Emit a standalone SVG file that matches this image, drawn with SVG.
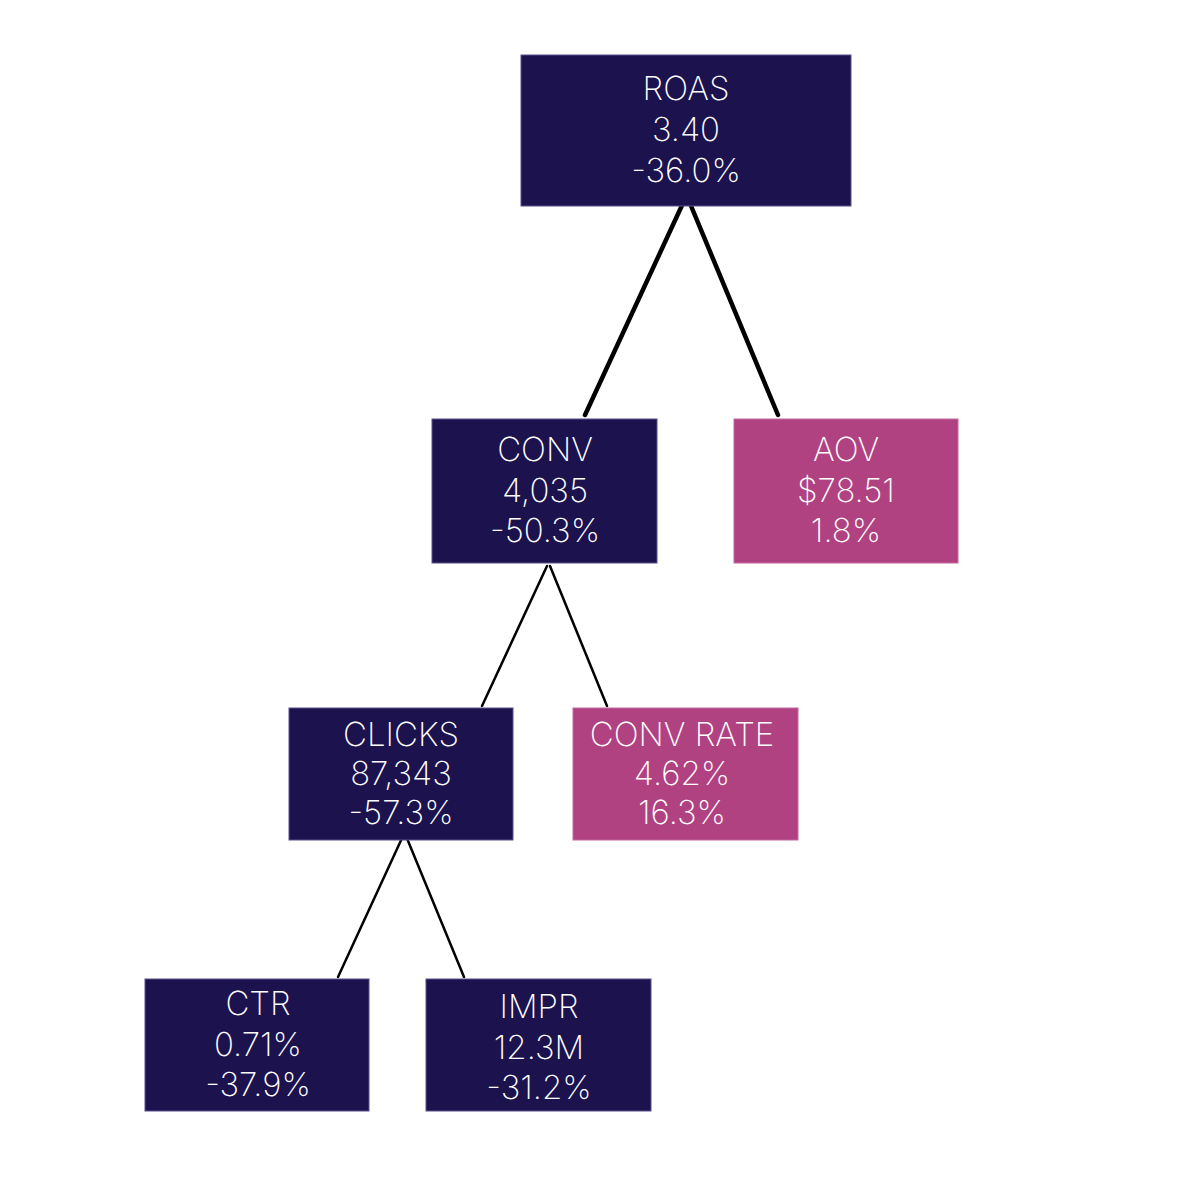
<svg xmlns="http://www.w3.org/2000/svg" width="1200" height="1200" viewBox="0 0 1200 1200">
<style>
.box{stroke:#5a5190;stroke-width:1}
.navy{fill:#1b124e}
.pink{fill:#b04282;stroke:#c668a0}
.t{fill:#ffffff;font-family:Inter,"Noto Sans",sans-serif;font-weight:250;font-size:33px;text-anchor:middle}
.c1{stroke:#000;stroke-width:4.5;stroke-linecap:round;fill:none}
.c2{stroke:#000;stroke-width:2.5;stroke-linecap:round;fill:none}
</style>
<rect width="1200" height="1200" fill="#ffffff"/>
<g id="connectors">
<line class="c1" x1="684" y1="201" x2="585" y2="415"/>
<line class="c1" x1="689" y1="201" x2="778" y2="415"/>
<line class="c2" x1="547" y1="566" x2="482" y2="706"/>
<line class="c2" x1="550" y1="566" x2="607" y2="706"/>
<line class="c2" x1="403" y1="836" x2="338" y2="977"/>
<line class="c2" x1="406" y1="836" x2="464" y2="977"/>
</g>
<g id="roas">
<rect class="box navy" x="521" y="55" width="330" height="151"/>
<text class="t" x="686" y="100">ROAS</text>
<text class="t" x="686" y="141">3.40</text>
<text class="t" x="686" y="182">-36.0%</text>
</g>
<g id="conv">
<rect class="box navy" x="432" y="419" width="225" height="144"/>
<text class="t" x="545" y="461">CONV</text>
<text class="t" x="545" y="502">4,035</text>
<text class="t" x="545" y="542">-50.3%</text>
</g>
<g id="aov">
<rect class="box pink" x="734" y="419" width="224" height="144"/>
<text class="t" x="846" y="461">AOV</text>
<text class="t" x="846" y="502">$78.51</text>
<text class="t" x="846" y="542">1.8%</text>
</g>
<g id="clicks">
<rect class="box navy" x="289" y="708" width="224" height="132"/>
<text class="t" x="401" y="746">CLICKS</text>
<text class="t" x="401" y="785">87,343</text>
<text class="t" x="401" y="824">-57.3%</text>
</g>
<g id="convrate">
<rect class="box pink" x="573" y="708" width="225" height="132"/>
<text class="t" x="682" y="746">CONV RATE</text>
<text class="t" x="682" y="785">4.62%</text>
<text class="t" x="682" y="824">16.3%</text>
</g>
<g id="ctr">
<rect class="box navy" x="145" y="979" width="224" height="132"/>
<text class="t" x="258" y="1015">CTR</text>
<text class="t" x="258" y="1056">0.71%</text>
<text class="t" x="258" y="1096">-37.9%</text>
</g>
<g id="impr">
<rect class="box navy" x="426" y="979" width="225" height="132"/>
<text class="t" x="539" y="1018">IMPR</text>
<text class="t" x="539" y="1059">12.3M</text>
<text class="t" x="539" y="1099">-31.2%</text>
</g>
</svg>
